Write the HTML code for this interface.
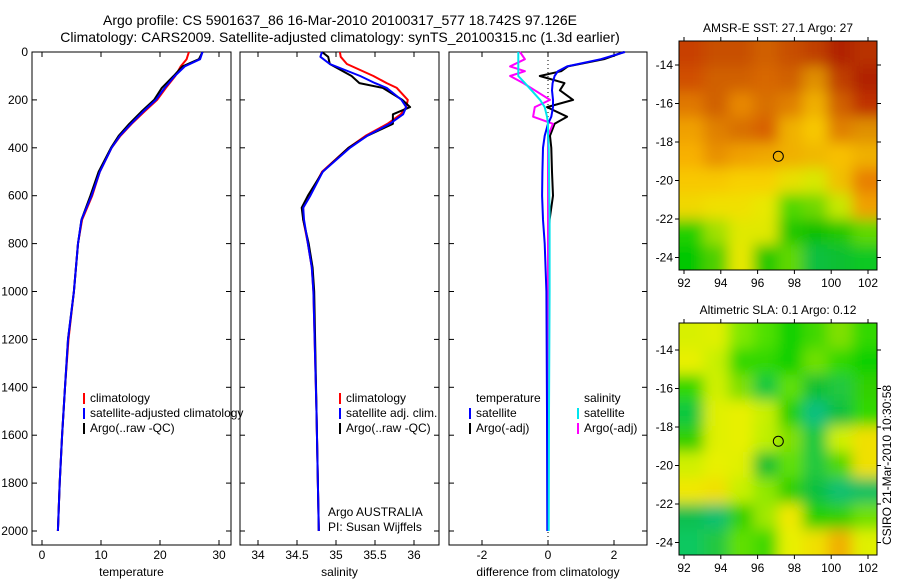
<!DOCTYPE html>
<html><head><meta charset="utf-8"><style>
html,body{margin:0;padding:0;background:#fff;}
svg{display:block;font-family:"Liberation Sans",sans-serif;}
text{font-size:12px;fill:#000;}
</style></head><body>
<svg id="fig" width="900" height="580" viewBox="0 0 900 580" xmlns="http://www.w3.org/2000/svg">
<defs>
<filter id="blur" x="-10%" y="-10%" width="120%" height="120%"><feGaussianBlur stdDeviation="7"/></filter>
<clipPath id="clipMap1"><rect x="679" y="41" width="198" height="229"/></clipPath>
<clipPath id="clipMap2"><rect x="679" y="323" width="198" height="232"/></clipPath>
</defs>
<text x="340" y="25" text-anchor="middle" style="font-size:14px">Argo profile: CS 5901637_86 16-Mar-2010 20100317_577 18.742S 97.126E</text>
<text x="340" y="42" text-anchor="middle" style="font-size:14px">Climatology: CARS2009. Satellite-adjusted climatology: synTS_20100315.nc (1.3d earlier)</text>
<g id="plots"></g>
<text x="891" y="465" transform="rotate(-90 891 465)" text-anchor="middle">CSIRO 21-Mar-2010 10:30:58</text>
</svg>
<script>
// ---- data ----
const tempDepths=[0,30,60,100,150,200,250,300,350,400,500,600,700,800,1000,1200,1400,1600,1800,2000];
const tempSat=[27.2,26.8,24.2,22.5,20.8,19.3,17.1,15.1,13.2,11.8,9.8,8.4,6.7,6.1,5.4,4.4,3.9,3.4,3.0,2.7];
const tempClim=[24.9,24.5,23.5,22.6,21.0,19.5,17.3,15.2,13.3,11.8,9.8,8.5,6.8,6.1,5.4,4.5,3.9,3.4,3.0,2.7];
const tempArgo=[27.2,26.6,23.8,22.3,20.3,19.0,16.8,14.8,13.0,11.7,9.6,8.2,6.7,6.1,5.4,4.4,3.9,3.4,3.0,2.7];
const salDepths=[0,20,50,100,130,150,200,230,260,300,350,400,500,600,650,700,800,900,1000,1500,2000];
const salSat=[34.82,34.8,34.92,35.31,35.5,35.65,35.84,35.9,35.86,35.69,35.4,35.18,34.83,34.67,34.58,34.59,34.64,34.69,34.71,34.75,34.78];
const salClim=[35.05,35.06,35.14,35.48,35.65,35.78,35.92,35.9,35.83,35.66,35.38,35.16,34.82,34.66,34.58,34.58,34.64,34.69,34.71,34.75,34.78];
const salArgo=[34.82,34.9,34.92,35.2,35.3,35.6,35.85,35.95,35.73,35.73,35.4,35.16,34.83,34.64,34.56,34.58,34.65,34.7,34.72,34.75,34.78];
const diffDepths=[0,30,60,80,100,130,160,200,230,270,300,350,400,500,600,700,800,1000,1500,2000];
const diffTempSat=[2.33,1.6,0.58,0.3,0.2,0.14,0.12,0.15,0.15,0.1,0,-0.1,-0.15,-0.17,-0.18,-0.15,-0.1,-0.05,-0.03,-0.02];
const diffTempArgo=[2.3,1.7,0.6,0.4,-0.25,0.5,0.36,0.76,-0.03,0.58,0.2,0.06,0.1,0.12,0.15,0.05,0.03,0.02,0,0];
const diffSalSat=[-0.9,-0.9,-0.9,-0.9,-0.9,-0.7,-0.5,-0.24,-0.1,-0.03,0,0,0.02,0.03,0.04,0.05,0.05,0.05,0.03,0.02];
const diffSalArgo=[-0.85,-0.7,-1.15,-0.7,-1.15,-0.75,-0.4,0.06,-0.4,-0.45,0.15,0,0,0,0,0,0,0,0,0];
const depthTicks=[0,200,400,600,800,1000,1200,1400,1600,1800,2000];
const tempTicks=[0,10,20,30];
const salTicks=[34,34.5,35,35.5,36];
const diffTicks=[-2,0,2];
const lonTicks=[92,94,96,98,100,102];
const latTicks=[-14,-16,-18,-20,-22,-24];
const sstGrid=[
["#c84000","#c85000","#c85000","#d06000","#c85000","#c04000","#b02000","#b83000"],
["#d05000","#d06000","#d06000","#d86800","#d06000","#e09000","#c04000","#b02000"],
["#e07800","#d06000","#e88800","#d87000","#e08000","#f0b000","#d06000","#c03000"],
["#f0a000","#e08000","#d87000","#d86000","#f0b000","#f8c800","#e08000","#e09000"],
["#f8b000","#e89000","#f0a000","#f0a800","#f0b000","#f0b800","#f8c000","#f0b000"],
["#f8c800","#f8c800","#f8d000","#f8d000","#e8e000","#d8e800","#f0c000","#e88000"],
["#f0d800","#f0e000","#f0e000","#e8e800","#50d800","#70d800","#c8e800","#f0a000"],
["#20d000","#a0e000","#e0e800","#e0e800","#20c800","#10c000","#20c800","#60d800"],
["#00c800","#50d000","#e8e800","#20c800","#60d800","#10c040","#10c030","#10c820"]];
const slaGrid=[
["#d8f000","#e0f000","#80e800","#50e000","#10d000","#40d800","#80e000","#30d800"],
["#e8f000","#c8f000","#30d800","#30d800","#10d000","#70e000","#30d800","#10d000"],
["#30d800","#d0f000","#80e000","#10c840","#60e000","#10c030","#20c840","#30d000"],
["#10c840","#e0f000","#e8f000","#c8f000","#20d000","#10c080","#10c040","#30d800"],
["#30d000","#e0f000","#e8f000","#c0f000","#80e000","#10c840","#d0f000","#f0e000"],
["#d0f000","#e8f000","#e0f000","#10c030","#60e000","#20c840","#50d800","#f0e000"],
["#f0e800","#f0e000","#c8f000","#90e800","#30d000","#10c040","#10c070","#10c060"],
["#10c050","#10c070","#30d000","#a0e800","#f0e800","#20d000","#30d000","#70e000"],
["#10c860","#20c840","#60e000","#40d800","#e8f000","#f0e000","#f0b000","#e0f000"]];
const floatLon=97.126, floatLat=-18.742;

const NS="http://www.w3.org/2000/svg";
const root=document.getElementById('plots');
function mk(tag,attrs,parent){const e=document.createElementNS(NS,tag);for(const k in attrs)e.setAttribute(k,attrs[k]);(parent||root).appendChild(e);return e;}
function txt(x,y,s,anchor,parent){const t=mk('text',{x:x,y:y,'text-anchor':anchor||'start'},parent);t.textContent=s;return t;}

const PT=52, PB=545;
const yDepth=d=>52+d*0.2395;

function panel(name,x0,x1,xs,xticks,xtickFmt,xlabel,showY){
  const g=mk('g',{});
  
  
  const r=mk('rect',{x:x0,y:PT,width:x1-x0,height:PB-PT,fill:'none',stroke:'#000','stroke-width':1},g);
  
  
  depthTicks.forEach(d=>{
    const y=yDepth(d);
    mk('line',{x1:x0,y1:y,x2:x0+5,y2:y,stroke:'#000'},g);
    mk('line',{x1:x1-5,y1:y,x2:x1,y2:y,stroke:'#000'},g);
    if(showY){const t=txt(x0-4,y+4,String(d),'end',g);
      
      }
  });
  xticks.forEach(v=>{
    const x=xs(v);
    mk('line',{x1:x,y1:PB,x2:x,y2:PB-5,stroke:'#000'},g);
    mk('line',{x1:x,y1:PT,x2:x,y2:PT+5,stroke:'#000'},g);
    const t=txt(x,559,xtickFmt(v),'middle',g);
    
    
  });
  const xl=txt((x0+x1)/2,576,xlabel,'middle',g);
  
  
  return g;
}
function series(g,depths,vals,xs,color,name,w){
  const pts=depths.map((d,i)=>xs(vals[i]).toFixed(1)+','+yDepth(d).toFixed(1)).join(' ');
  const p=mk('polyline',{points:pts,fill:'none',stroke:color,'stroke-width':w||2,'stroke-linejoin':'round'},g);
  
  
}
function legend(g,x,y,items){
  items.forEach((it,i)=>{
    const yy=y+i*15;
    if(it.c){const l=mk('line',{x1:x,y1:yy-9,x2:x,y2:yy+2,stroke:it.c,'stroke-width':2},g);
      
      }
    const t=txt(x+6,yy,it.t,'start',g);
    
    
  });
}

// Panel 1: temperature
const xT=v=>42+v*5.9;
const g1=panel('temperature',32,231,xT,tempTicks,v=>String(v),'temperature',true);
series(g1,tempDepths,tempClim,xT,'#ff0000','temperature-climatology-line');
series(g1,tempDepths,tempArgo,xT,'#000000','temperature-argo-line');
series(g1,tempDepths,tempSat,xT,'#0000ff','temperature-satellite-line');
legend(g1,84,402,[{c:'#ff0000',t:'climatology'},{c:'#0000ff',t:'satellite-adjusted climatology'},{c:'#000',t:'Argo(..raw -QC)'}]);

// Panel 2: salinity
const xS=v=>258+(v-34)*78;
const g2=panel('salinity',240,439,xS,salTicks,v=>String(v),'salinity',false);
series(g2,salDepths,salClim,xS,'#ff0000','salinity-climatology-line');
series(g2,salDepths,salArgo,xS,'#000000','salinity-argo-line');
series(g2,salDepths,salSat,xS,'#0000ff','salinity-satellite-line');
legend(g2,340,402,[{c:'#ff0000',t:'climatology'},{c:'#0000ff',t:'satellite adj. clim.'},{c:'#000',t:'Argo(..raw -QC)'}]);
let t=txt(328,516,'Argo AUSTRALIA','start',g2);


t=txt(328,531,'PI: Susan Wijffels','start',g2);



// Panel 3: differences
const xD=v=>548+v*33;
const g3=panel('difference',449,647,xD,diffTicks,v=>String(v),'difference from climatology',false);
const zl=mk('line',{x1:xD(0),y1:PT,x2:xD(0),y2:PB,stroke:'#000','stroke-dasharray':'1,3'},g3);


series(g3,diffDepths,diffTempArgo,xD,'#000000','diff-temperature-argo-line');
series(g3,diffDepths,diffSalArgo,xD,'#ff00ff','diff-salinity-argo-line');
series(g3,diffDepths,diffTempSat,xD,'#0000ff','diff-temperature-satellite-line');
series(g3,diffDepths,diffSalSat,xD,'#00e5ee','diff-salinity-satellite-line');
legend(g3,470,402,[{t:'temperature'},{c:'#0000ff',t:'satellite'},{c:'#000',t:'Argo(-adj)'}]);
legend(g3,578,402,[{t:'salinity'},{c:'#00e5ee',t:'satellite'},{c:'#ff00ff',t:'Argo(-adj)'}]);

// Maps
function map(name,y0,y1,latY0,grid,title){
  const x0=679,x1=877;
  const g=mk('g',{});
  
  
  const lonX=v=>684+(v-92)*18.4;
  const latY=v=>latY0+(-14-v)*19.25;
  const img=mk('g',{'clip-path':'url(#clipMap'+(name==='sst'?1:2)+')'},g);
  const hm=mk('g',{filter:'url(#blur)'},img);
  const rows=grid.length, cols=grid[0].length;
  const cw=(x1-x0)/cols, ch=(y1-y0)/rows;
  grid.forEach((row,ri)=>row.forEach((c,ci)=>{
    const r=mk('rect',{x:x0+ci*cw-(ci===0?15:0),y:y0+ri*ch-(ri===0?15:0),width:cw+1+(ci===0||ci===cols-1?15:0),height:ch+1+(ri===0||ri===rows-1?15:0),fill:c},hm);
    
    
  }));
  const b=mk('rect',{x:x0,y:y0,width:x1-x0,height:y1-y0,fill:'none',stroke:'#000'},g);
  
  
  lonTicks.forEach(v=>{const x=lonX(v);
    mk('line',{x1:x,y1:y1,x2:x,y2:y1+4,stroke:'#000'},g);
    mk('line',{x1:x,y1:y0,x2:x,y2:y0-4,stroke:'#000'},g);
    const tt=txt(x,y1+17,String(v),'middle',g);
    
    });
  latTicks.forEach(v=>{const y=latY(v);
    mk('line',{x1:x0,y1:y,x2:x0-4,y2:y,stroke:'#000'},g);
    mk('line',{x1:x1,y1:y,x2:x1+4,y2:y,stroke:'#000'},g);
    const tt=txt(x0-6,y+4,String(v),'end',g);
    
    });
  const c=mk('circle',{cx:lonX(floatLon),cy:latY(floatLat),r:5,fill:'none',stroke:'#000','stroke-width':1},g);
  
  
  const tt=txt((x0+x1)/2,y0-9,title,'middle',g);
  
  
}
map('sst',41,270,65,sstGrid,'AMSR-E SST: 27.1 Argo: 27');
map('sla',323,555,350,slaGrid,'Altimetric SLA: 0.1 Argo: 0.12');
</script>
</body></html>
